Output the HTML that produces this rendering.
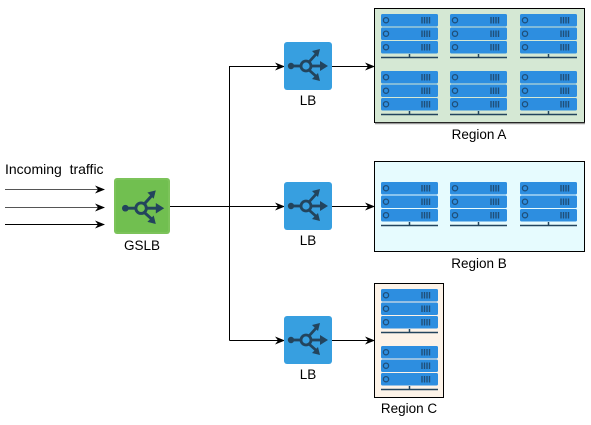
<!DOCTYPE html>
<html><head><meta charset="utf-8"><style>
html,body{margin:0;padding:0;background:#fff;}
body{width:591px;height:420px;position:relative;overflow:hidden;font-family:"Liberation Sans",sans-serif;}
</style></head><body>
<svg width="591" height="420" viewBox="0 0 591 420" xmlns="http://www.w3.org/2000/svg" font-family="Liberation Sans, sans-serif">
<defs>
<marker id="ar" markerWidth="10" markerHeight="10" refX="9" refY="5" orient="auto" markerUnits="userSpaceOnUse">
<path d="M0,1 L10,5 L0,9 L3,5 Z" fill="#000"/></marker>
<g id="glyph" fill="none" stroke="#23445d" stroke-width="2.8">
<circle cx="7" cy="24" r="3.2" fill="#23445d" stroke="none"/>
<line x1="7" y1="24" x2="17" y2="24"/>
<circle cx="22" cy="24" r="5"/>
<line x1="25" y1="20" x2="34" y2="10"/>
<line x1="27" y1="24" x2="40" y2="24"/>
<line x1="25" y1="28" x2="34" y2="36"/>
<path d="M36,7 L28,9 L34,15 Z" fill="#23445d" stroke="none"/>
<path d="M44,24 L36,19 L36,29 Z" fill="#23445d" stroke="none"/>
<path d="M36,39 L34,31 L28,37 Z" fill="#23445d" stroke="none"/>
</g>
<g id="lb">
<rect x="0" y="0" width="48" height="48" rx="3" fill="#379fe0"/>
<use href="#glyph"/>
</g>
<g id="unit">
<rect x="0" y="0" width="57" height="12.5" rx="1.5" fill="#2d8ee0"/>
<circle cx="5" cy="6.2" r="2.6" fill="none" stroke="#1f4f7a" stroke-width="1.3"/>
<g stroke="#1f4f7a" stroke-width="1.4"><line x1="41" y1="3" x2="41" y2="9.5"/><line x1="43.5" y1="3" x2="43.5" y2="9.5"/><line x1="46" y1="3" x2="46" y2="9.5"/><line x1="48.5" y1="3" x2="48.5" y2="9.5"/></g>
</g>
<g id="rack">
<use href="#unit" y="0"/><use href="#unit" y="13.5"/><use href="#unit" y="27"/>
<line x1="0" y1="43.5" x2="57" y2="43.5" stroke="#23445d" stroke-width="1.5"/>
<line x1="28.5" y1="40" x2="28.5" y2="43.5" stroke="#23445d" stroke-width="1.5"/>
</g>
</defs>

<text x="5" y="174" font-size="14" fill="#000" xml:space="preserve">Incoming  traffic</text>
<line x1="5" y1="189.5" x2="104" y2="189.5" stroke="#555" stroke-width="1" marker-end="url(#ar)"/>
<line x1="5" y1="207.5" x2="104" y2="207.5" stroke="#555" stroke-width="1" marker-end="url(#ar)"/>
<line x1="5" y1="224.5" x2="104" y2="224.5" stroke="#000" stroke-width="1" marker-end="url(#ar)"/>

<rect x="114" y="178" width="56" height="56" rx="3" fill="#7cc35a"/>
<rect x="116" y="180" width="52" height="52" rx="2" fill="#71bf50"/>
<g transform="translate(118,183) scale(1.05)"><use href="#glyph"/></g>
<text x="142" y="250" font-size="13.5" text-anchor="middle">GSLB</text>

<line x1="170" y1="206.5" x2="284" y2="206.5" stroke="#000" marker-end="url(#ar)"/>
<path d="M229.5,340.5 L229.5,66.5 L284,66.5" fill="none" stroke="#000" marker-end="url(#ar)"/>
<line x1="229.5" y1="340.5" x2="284" y2="340.5" stroke="#000" marker-end="url(#ar)"/>
<line x1="332" y1="66.5" x2="374" y2="66.5" stroke="#000" marker-end="url(#ar)"/>
<line x1="332" y1="206.5" x2="374" y2="206.5" stroke="#000" marker-end="url(#ar)"/>
<line x1="332" y1="340.5" x2="374" y2="340.5" stroke="#000" marker-end="url(#ar)"/>

<use href="#lb" x="284" y="42"/>
<text x="308" y="105" font-size="13.5" text-anchor="middle">LB</text>
<use href="#lb" x="284" y="182"/>
<text x="308" y="245" font-size="13.5" text-anchor="middle">LB</text>
<use href="#lb" x="284" y="316"/>
<text x="308" y="379" font-size="13.5" text-anchor="middle">LB</text>

<rect x="374.5" y="8.5" width="210" height="114" fill="#d5e8d4" stroke="#000"/>
<line x1="375" y1="123.5" x2="585" y2="123.5" stroke="#999" stroke-width="1.5"/>
<use href="#rack" x="381" y="14"/><use href="#rack" x="450" y="14"/><use href="#rack" x="520" y="14"/>
<use href="#rack" x="381" y="71"/><use href="#rack" x="450" y="71"/><use href="#rack" x="520" y="71"/>
<text x="479" y="139" font-size="13.5" text-anchor="middle">Region A</text>

<rect x="374.5" y="161.5" width="210" height="90" fill="#e6fbfe" stroke="#000"/>
<use href="#rack" x="381" y="182"/><use href="#rack" x="450" y="182"/><use href="#rack" x="520" y="182"/>
<text x="479" y="268" font-size="13.5" text-anchor="middle">Region B</text>

<rect x="374.5" y="283.5" width="69" height="114" fill="#fdf3e8" stroke="#000"/>
<use href="#rack" x="381" y="289"/><use href="#rack" x="381" y="346"/>
<text x="409" y="413" font-size="13.5" text-anchor="middle">Region C</text>
</svg>
</body></html>
